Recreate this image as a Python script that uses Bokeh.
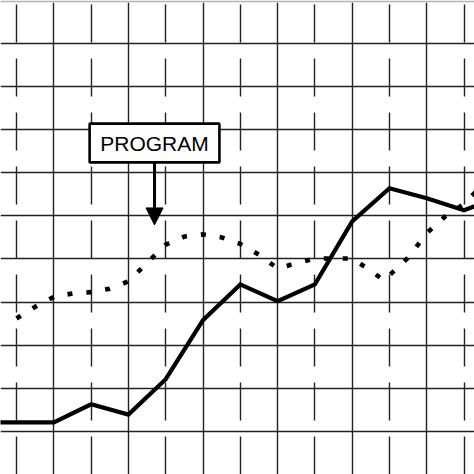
from bokeh.models import Arrow, BoxAnnotation, FixedTicker, Grid, Label, NormalHead, Range1d
from bokeh.plotting import figure
from bokeh.embed import file_html
from bokeh.resources import INLINE

# solid series (one point per grid column)
solid_x = [-1, 0, 1, 2, 3, 4, 5, 6, 7, 8, 9, 10, 11, 12, 13]
solid_y = [0.21, 0.21, 0.21, 0.63, 0.39, 1.21, 2.58, 3.41, 3.02, 3.41, 4.87, 5.64, 5.41, 5.13, 5.45]

# dotted series
dot_x = [0, 0.5, 1, 1.5, 2, 2.5, 3, 3.5, 4, 4.5, 5, 5.5, 6, 6.5, 7, 7.5, 8, 8.5, 9, 9.5, 9.85, 10.5, 11, 11.5, 12, 12.5]
dot_y = [2.62, 2.89, 3.12, 3.20, 3.23, 3.31, 3.48, 3.91, 4.33, 4.52, 4.57, 4.50, 4.35, 4.10, 3.78, 3.90,
         4.01, 4.01, 4.01, 3.73, 3.50, 4.03, 4.60, 4.99, 5.28, 5.72]

major_x = [1, 3, 5, 7, 9, 11]
minor_x = [0, 2, 4, 6, 8, 10, 12]
rows_y = [0, 1, 2, 3, 4, 5, 6, 7, 8, 9]

p = figure(width=474, height=474, output_backend="svg", toolbar_location=None,
           x_range=Range1d(-0.43, 12.28), y_range=Range1d(-1.0, 9.95),
           x_axis_location=None, y_axis_location=None,
           min_border_left=0, min_border_right=0, min_border_bottom=0, min_border_top=2)
p.border_fill_color = "#b3b3b3"
p.background_fill_color = "white"
p.outline_line_color = None

p.xgrid.ticker = FixedTicker(ticks=major_x)
p.xgrid.grid_line_color = "#222222"
p.xgrid.grid_line_width = 1.4
p.xgrid.grid_line_alpha = 1
p.ygrid.ticker = FixedTicker(ticks=rows_y)
p.ygrid.grid_line_color = "#222222"
p.ygrid.grid_line_width = 1.4
p.ygrid.grid_line_alpha = 1

minor = Grid(dimension=0, ticker=FixedTicker(ticks=minor_x),
             grid_line_color="#222222", grid_line_width=1.4, grid_line_dash="38 16")
p.add_layout(minor)

p.line(dot_x, dot_y, line_color="black", line_width=4.6, line_dash="5 14", line_cap="butt")
p.line(solid_x, solid_y, line_color="black", line_width=4.2, line_join="miter")

box = BoxAnnotation(left=1.96, right=5.44, bottom=6.24, top=7.14,
                    fill_color="white", fill_alpha=1, line_color="black", line_alpha=1, line_width=2.6)
p.add_layout(box)
p.add_layout(Label(x=3.70, y=6.69, text="PROGRAM", text_align="center", text_baseline="middle",
                   text_font="Liberation Sans", text_font_size="21px", text_color="black"))
p.add_layout(Arrow(x_start=3.70, y_start=6.24, x_end=3.70, y_end=4.79, line_width=3,
                   end=NormalHead(size=17, fill_color="black", line_color="black")))

open("out.html", "w").write(file_html(p, INLINE))
